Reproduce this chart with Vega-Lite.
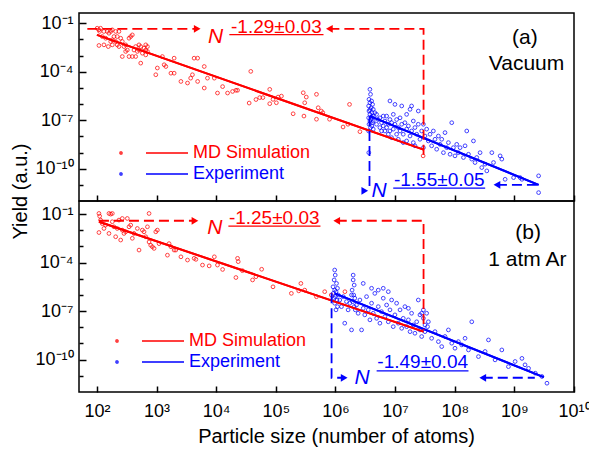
{
  "$schema": "https://vega.github.io/schema/vega-lite/v6.json",
  "background": "white",
  "padding": {"left": 9, "top": 12, "right": 0, "bottom": 0},
  "bounds": "flush",
  "spacing": 0,
  "config": {
    "font": "Liberation Sans",
    "view": {"stroke": "#000", "strokeWidth": 1.5},
    "axis": {"labelColor": "#000", "titleColor": "#000", "tickColor": "#000", "tickWidth": 1.5, "labelFont": "Liberation Sans", "titleFont": "Liberation Sans", "labelFontSize": 18, "titleFontSize": 20, "titleFontWeight": "normal", "domain": false, "grid": false, "labelFlush": false, "labelOverlap": false}
  },
  "resolve": {"scale": {"color": "independent"}, "legend": {"color": "independent"}},
  "datasets": {
    "sim_a": [
      {"N":101,"Y":0.049},{"N":108,"Y":0.039},{"N":111,"Y":0.031},{"N":123,"Y":0.015},{"N":108,"Y":0.0042},{"N":131,"Y":0.0046},{"N":140,"Y":0.0118},{"N":149,"Y":0.031},{"N":159,"Y":0.024},{"N":170,"Y":0.0074},{"N":181,"Y":0.0046},{"N":193,"Y":0.015},{"N":206,"Y":0.0074},{"N":219,"Y":0.015},{"N":234,"Y":0.031},{"N":250,"Y":0.0118},{"N":266,"Y":0.0074},{"N":284,"Y":0.0036},{"N":303,"Y":0.0046},{"N":323,"Y":0.0022},{"N":345,"Y":0.0118},{"N":368,"Y":0.015},{"N":392,"Y":0.019},{"N":418,"Y":0.0022},{"N":446,"Y":0.00087},{"N":476,"Y":0.0018},{"N":508,"Y":0.0046},{"N":542,"Y":0.0036},{"N":578,"Y":0.0014},{"N":616,"Y":0.0029},{"N":658,"Y":0.0022},{"N":702,"Y":0.0036},{"N":542,"Y":0.00034},{"N":266,"Y":0.00087},{"N":345,"Y":0.00087},{"N":392,"Y":0.00087},{"N":303,"Y":0.0018},{"N":181,"Y":0.0094},{"N":206,"Y":0.031},{"N":155,"Y":0.0036},{"N":234,"Y":0.0036},{"N":658,"Y":0.0011},{"N":702,"Y":0.0018},{"N":115,"Y":0.049},{"N":131,"Y":0.031},{"N":170,"Y":0.031},{"N":181,"Y":0.039},{"N":658,"Y":0.0046},{"N":508,"Y":0.0022},{"N":446,"Y":0.0036},{"N":219,"Y":0.0046},
      {"N":970,"Y":6.5e-5},{"N":1030,"Y":1.7e-4},{"N":1250,"Y":8.7e-4},{"N":1340,"Y":2.7e-4},{"N":1430,"Y":2.1e-4},{"N":1740,"Y":8.1e-5},{"N":1970,"Y":6.9e-4},{"N":1970,"Y":8.1e-5},{"N":2560,"Y":2.5e-5},{"N":3300,"Y":2.0e-5},{"N":3730,"Y":4.0e-5},{"N":3990,"Y":6.5e-5},{"N":4260,"Y":6.9e-4},{"N":4880,"Y":6.9e-4},{"N":4880,"Y":2.5e-5},{"N":6300,"Y":2.1e-4},{"N":6300,"Y":9.8e-6},{"N":7130,"Y":4.0e-5},{"N":9300,"Y":4.0e-5},{"N":10500,"Y":4.8e-6},{"N":12800,"Y":1.2e-5},{"N":15500,"Y":4.8e-6},{"N":18800,"Y":6.0e-6},{"N":21400,"Y":7.1e-6},{"N":22800,"Y":7.1e-6},{"N":35700,"Y":1.15e-6},{"N":38000,"Y":1.05e-4},{"N":46400,"Y":1.9e-6},
      {"N":53700,"Y":2.5e-6},{"N":60600,"Y":2.5e-6},{"N":79000,"Y":8.1e-6},{"N":79000,"Y":1.05e-6},{"N":89600,"Y":1.95e-6},{"N":102000,"Y":1.2e-6},{"N":109000,"Y":2.7e-6},{"N":124000,"Y":3.1e-6},{"N":195000,"Y":2.5e-7},{"N":288000,"Y":5.0e-6},{"N":305000,"Y":1.2e-6},{"N":324000,"Y":2.7e-6},{"N":296000,"Y":1.8e-7},{"N":480000,"Y":4.0e-6},{"N":480000,"Y":1.15e-7},{"N":513000,"Y":5.9e-7},{"N":578000,"Y":3.7e-7},{"N":614000,"Y":2.9e-7},{"N":795000,"Y":1.15e-7},{"N":1340000,"Y":3.8e-8},{"N":1620000,"Y":5.6e-8},{"N":1720000,"Y":9.5e-7},{"N":2570000,"Y":1.95e-8},{"N":29500000,"Y":6.2e-10}
    ],
    "exp_a": [
      {"N":3780000,"Y":8.1e-6},{"N":3870000,"Y":4.0e-6},{"N":3650000,"Y":1.95e-6},{"N":4030000,"Y":1.55e-6},{"N":3780000,"Y":1.2e-6},{"N":4190000,"Y":9.5e-7},{"N":3600000,"Y":7.6e-7},{"N":3970000,"Y":5.9e-7},{"N":4300000,"Y":4.7e-7},{"N":3650000,"Y":3.7e-7},{"N":4080000,"Y":2.9e-7},{"N":3780000,"Y":2.3e-7},{"N":4300000,"Y":1.8e-7},{"N":3600000,"Y":1.4e-7},{"N":3970000,"Y":1.1e-7},{"N":3780000,"Y":8.9e-8},{"N":4190000,"Y":7.0e-8},{"N":3650000,"Y":5.6e-8},{"N":4080000,"Y":4.4e-8},{"N":3870000,"Y":3.5e-8},{"N":4300000,"Y":2.8e-8},{"N":3600000,"Y":2.15e-8},{"N":3620000,"Y":9.8e-10},{"N":4030000,"Y":1.6e-7},{"N":3780000,"Y":4.5e-7},{"N":4300000,"Y":8.9e-8},
      {"N":4570000,"Y":2.9e-7},{"N":4880000,"Y":2.3e-7},{"N":4880000,"Y":5.6e-8},{"N":5210000,"Y":1.1e-7},{"N":5560000,"Y":1.4e-7},{"N":5560000,"Y":3.5e-8},{"N":5930000,"Y":7.0e-8},{"N":5930000,"Y":2.15e-8},{"N":6330000,"Y":1.8e-7},{"N":6330000,"Y":4.4e-8},{"N":6750000,"Y":8.9e-8},{"N":6750000,"Y":2.15e-8},{"N":7200000,"Y":1.8e-7},{"N":7200000,"Y":3.5e-8},{"N":7690000,"Y":5.6e-8},{"N":7690000,"Y":1.35e-8},{"N":8190000,"Y":1.55e-6},{"N":8190000,"Y":1.1e-7},{"N":8190000,"Y":2.15e-8},{"N":8740000,"Y":7.0e-8},{"N":8740000,"Y":8.3e-9},{"N":9330000,"Y":2.3e-7},{"N":9330000,"Y":2.8e-8},{"N":9940000,"Y":9.5e-7},{"N":9940000,"Y":5.6e-8},{"N":10600000,"Y":1.1e-7},{"N":10600000,"Y":1.35e-8},{"N":11300000,"Y":3.5e-8},{"N":11300000,"Y":6.6e-9},{"N":12100000,"Y":1.4e-7},{"N":12100000,"Y":2.15e-8},{"N":12900000,"Y":7.6e-7},{"N":12900000,"Y":5.6e-8},{"N":13700000,"Y":1.35e-8},{"N":13700000,"Y":4.1e-9},{"N":14600000,"Y":7.0e-8},{"N":15600000,"Y":2.3e-7},{"N":15600000,"Y":2.8e-8},{"N":15600000,"Y":5.2e-9},{"N":16700000,"Y":4.4e-8},{"N":17800000,"Y":4.7e-7},{"N":17800000,"Y":1.05e-8},{"N":18900000,"Y":7.6e-7},{"N":18900000,"Y":2.15e-8},{"N":20200000,"Y":8.9e-8},{"N":20200000,"Y":4.1e-9},{"N":21500000,"Y":3.5e-8},{"N":21500000,"Y":2.6e-9},{"N":23000000,"Y":1.35e-8},{"N":24500000,"Y":3.7e-7},{"N":24500000,"Y":5.6e-8},{"N":26100000,"Y":6.6e-9},{"N":27900000,"Y":2.15e-8},{"N":29800000,"Y":2.0e-9},{"N":29800000,"Y":5.6e-8},{"N":31700000,"Y":1.05e-8},{"N":33800000,"Y":2.8e-8},{"N":36100000,"Y":5.2e-9},{"N":38500000,"Y":1.35e-8},{"N":41000000,"Y":2.6e-9},{"N":43800000,"Y":2.15e-8},{"N":46700000,"Y":6.6e-9},{"N":49800000,"Y":1.6e-9},{"N":53200000,"Y":1.05e-8},{"N":56700000,"Y":3.2e-9},{"N":60500000,"Y":6.6e-9},{"N":64600000,"Y":9.8e-10},{"N":68700000,"Y":1.7e-8},{"N":73400000,"Y":2.0e-9},{"N":78300000,"Y":4.1e-9},{"N":83500000,"Y":7.8e-10},{"N":89100000,"Y":7.0e-8},{"N":95000000,"Y":2.0e-9},{"N":101000000,"Y":6.2e-10},{"N":108000000,"Y":3.2e-9},{"N":115000000,"Y":9.8e-10},{"N":123000000,"Y":2.0e-9},{"N":140000000,"Y":4.9e-10},{"N":149000000,"Y":2.6e-9},{"N":159000000,"Y":2.15e-8},{"N":170000000,"Y":7.8e-10},{"N":193000000,"Y":3.9e-10},{"N":206000000,"Y":5.2e-9},{"N":219000000,"Y":2.4e-10},{"N":234000000,"Y":4.9e-10},{"N":266000000,"Y":9.8e-10},{"N":284000000,"Y":1.17e-10},{"N":323000000,"Y":1.9e-10},{"N":345000000,"Y":7.3e-11},{"N":419000000,"Y":9.8e-10},{"N":447000000,"Y":2.4e-10},{"N":577000000,"Y":6.2e-10},{"N":616000000,"Y":3.9e-10},{"N":700000000,"Y":2.2e-11},{"N":970000000,"Y":2.8e-11},{"N":1250000000,"Y":2.8e-11},{"N":1340000000,"Y":2.2e-11},{"N":2550000000,"Y":3.6e-11},{"N":2550000000,"Y":3.3e-12}
    ],
    "sim_b": [
      {"N":108,"Y":0.11},{"N":111,"Y":0.075},{"N":115,"Y":0.043},{"N":123,"Y":0.026},{"N":108,"Y":0.0073},{"N":131,"Y":0.013},{"N":140,"Y":0.021},{"N":159,"Y":0.11},{"N":170,"Y":0.1},{"N":181,"Y":0.11},{"N":159,"Y":0.0064},{"N":181,"Y":0.034},{"N":193,"Y":0.0165},{"N":206,"Y":0.004},{"N":219,"Y":0.013},{"N":234,"Y":0.043},{"N":250,"Y":0.0025},{"N":266,"Y":0.0103},{"N":266,"Y":0.054},{"N":284,"Y":0.0064},{"N":303,"Y":0.0081},{"N":323,"Y":0.054},{"N":345,"Y":0.0165},{"N":368,"Y":0.021},{"N":392,"Y":0.0032},{"N":418,"Y":0.0064},{"N":476,"Y":0.013},{"N":508,"Y":0.0006},{"N":578,"Y":0.0103},{"N":616,"Y":0.0081},{"N":658,"Y":0.004},{"N":702,"Y":0.0165},{"N":748,"Y":0.11},{"N":748,"Y":0.0019},{"N":797,"Y":0.0012},{"N":850,"Y":0.00096},{"N":970,"Y":0.0081},{"N":1030,"Y":0.0103},{"N":908,"Y":0.00076},{"N":1100,"Y":0.0015},{"N":1620,"Y":0.0015},{"N":1520,"Y":0.00029},{"N":1740,"Y":0.00096},{"N":1970,"Y":0.0006},{"N":2100,"Y":0.0006},{"N":2560,"Y":0.00023},{"N":3300,"Y":0.000145},{"N":4260,"Y":0.000185},{"N":4570,"Y":0.00016},{"N":5890,"Y":7.1e-5},{"N":7620,"Y":6.3e-5},{"N":9300,"Y":0.00023},{"N":10500,"Y":7.1e-5},{"N":12800,"Y":3.8e-5},{"N":21400,"Y":1.2e-5},{"N":22800,"Y":0.000185},{"N":23400,"Y":0.000115},{"N":27500,"Y":3.2e-5},{"N":40700,"Y":8.5e-6},{"N":46400,"Y":1.35e-5},
      {"N":57800,"Y":3.9e-5},{"N":89600,"Y":3.2e-6},{"N":182000,"Y":1.26e-6},{"N":263000,"Y":5.2e-6},{"N":242000,"Y":1.8e-6},{"N":305000,"Y":2.0e-6},{"N":480000,"Y":7.8e-7},{"N":660000,"Y":1.6e-6},{"N":850000,"Y":1.0e-6},{"N":1440000,"Y":1.6e-6}
    ],
    "exp_b": [
      {"N":970000,"Y":3.5e-5},{"N":990000,"Y":1.7e-5},{"N":950000,"Y":8.5e-6},{"N":1040000,"Y":5.2e-6},{"N":910000,"Y":3.2e-6},{"N":1080000,"Y":2.6e-6},{"N":970000,"Y":2.0e-6},{"N":1020000,"Y":1.6e-6},{"N":920000,"Y":1.26e-6},{"N":1110000,"Y":1.0e-6},{"N":990000,"Y":7.9e-7},{"N":950000,"Y":6.3e-7},{"N":1060000,"Y":4.9e-7},{"N":970000,"Y":3.1e-7},{"N":1080000,"Y":1.9e-7},{"N":1020000,"Y":1.2e-7},
      {"N":1980000,"Y":1.7e-5},{"N":1980000,"Y":8.5e-6},{"N":2060000,"Y":4.1e-6},{"N":1900000,"Y":2.0e-6},{"N":2020000,"Y":1.0e-6},{"N":2110000,"Y":6.3e-7},{"N":1940000,"Y":3.9e-7},{"N":2060000,"Y":1.9e-7},{"N":2150000,"Y":1.2e-7},
      {"N":1180000,"Y":4.9e-7},{"N":1260000,"Y":1.9e-7},{"N":1350000,"Y":7.9e-7},{"N":1430000,"Y":1.8e-8},{"N":1530000,"Y":3.9e-7},{"N":1630000,"Y":1.2e-7},{"N":1740000,"Y":3.1e-7},{"N":1860000,"Y":6.9e-9},{"N":2250000,"Y":2.4e-7},{"N":2400000,"Y":7.4e-8},{"N":2570000,"Y":4.9e-7},{"N":2740000,"Y":6.9e-9},{"N":2920000,"Y":5.2e-6},{"N":2920000,"Y":1.5e-7},{"N":3100000,"Y":5.9e-8},{"N":3320000,"Y":7.9e-7},{"N":3550000,"Y":1.2e-7},{"N":3780000,"Y":2.9e-8},{"N":4030000,"Y":3.1e-7},{"N":4030000,"Y":2.6e-6},{"N":4300000,"Y":7.4e-8},{"N":4570000,"Y":1.26e-6},{"N":4900000,"Y":3.6e-8},{"N":5220000,"Y":1.9e-7},{"N":5220000,"Y":2.0e-6},{"N":5560000,"Y":1.8e-8},{"N":5930000,"Y":9.3e-8},{"N":6330000,"Y":6.3e-7},{"N":6330000,"Y":2.6e-6},{"N":6750000,"Y":4.6e-8},{"N":7200000,"Y":2.4e-7},{"N":7690000,"Y":2.2e-8},{"N":8200000,"Y":1.2e-7},{"N":8740000,"Y":4.9e-7},{"N":9300000,"Y":1.1e-8},{"N":9940000,"Y":5.9e-8},{"N":10600000,"Y":3.1e-7},{"N":11300000,"Y":1.8e-8},{"N":12100000,"Y":1.2e-7},{"N":12900000,"Y":8.7e-9},{"N":13700000,"Y":3.6e-8},{"N":14600000,"Y":1.9e-7},{"N":15600000,"Y":1.1e-8},{"N":16700000,"Y":2.9e-8},{"N":17800000,"Y":5.4e-9},{"N":18900000,"Y":7.4e-8},{"N":20200000,"Y":1.4e-8},{"N":21500000,"Y":4.3e-9},{"N":23000000,"Y":2.2e-8},{"N":24500000,"Y":4.9e-7},{"N":26100000,"Y":6.9e-9},{"N":27900000,"Y":7.4e-8},{"N":27900000,"Y":2.7e-9},{"N":29800000,"Y":3.6e-8},{"N":31700000,"Y":1.4e-8},{"N":33800000,"Y":7.4e-8},{"N":36100000,"Y":2.2e-8},{"N":31700000,"Y":5.4e-9},{"N":1860000,"Y":1.0e-6},{"N":7690000,"Y":1.6e-6},{"N":16700000,"Y":1.5e-7},{"N":26100000,"Y":5.9e-8},{"N":29800000,"Y":1.2e-7},{"N":35000000,"Y":1.1e-8},
      {"N":41000000,"Y":2.1e-9},{"N":46700000,"Y":5.4e-9},{"N":53200000,"Y":1.3e-9},{"N":60500000,"Y":6.4e-10},{"N":68700000,"Y":2.7e-9},{"N":78300000,"Y":6.9e-9},{"N":89100000,"Y":1.04e-9},{"N":101000000,"Y":5.1e-10},{"N":115000000,"Y":1.3e-9},{"N":131000000,"Y":8.2e-10},{"N":149000000,"Y":2.1e-9},{"N":170000000,"Y":4.0e-10},{"N":193000000,"Y":2.2e-8},{"N":250000000,"Y":1.55e-10},{"N":323000000,"Y":3.2e-10},{"N":368000000,"Y":1.66e-9},{"N":475000000,"Y":9.7e-11},{"N":616000000,"Y":4.0e-10},{"N":795000000,"Y":3.7e-11},{"N":1030000000,"Y":7.7e-11},{"N":1340000000,"Y":1.2e-10},{"N":1510000000,"Y":4.8e-11},{"N":1730000000,"Y":2.9e-11},{"N":2240000000,"Y":1.46e-11},{"N":2900000000,"Y":9.1e-12},{"N":3520000000,"Y":3.5e-12}
    ],
    "fits": [
      {"panel":"a","series":"MD Simulation","N":100,"Y":0.019},{"panel":"a","series":"MD Simulation","N":30000000,"Y":1.5e-9},
      {"panel":"a","series":"Experiment","N":3780000,"Y":1.8e-7},{"panel":"a","series":"Experiment","N":2550000000,"Y":1.0e-11},
      {"panel":"b","series":"MD Simulation","N":108,"Y":0.034},{"panel":"b","series":"MD Simulation","N":30000000,"Y":5.4e-9},
      {"panel":"b","series":"Experiment","N":970000,"Y":1.26e-6},{"panel":"b","series":"Experiment","N":3100000000,"Y":8.3e-12}
    ],
    "guides": [
      {"panel":"a","series":"MD Simulation","seg":"a1","ord":1,"N":69,"Y":0.045},{"panel":"a","series":"MD Simulation","seg":"a1","ord":2,"N":4800,"Y":0.045},
      {"panel":"a","series":"MD Simulation","seg":"a2","ord":1,"N":790000,"Y":0.045},{"panel":"a","series":"MD Simulation","seg":"a2","ord":2,"N":30000000,"Y":0.045},{"panel":"a","series":"MD Simulation","seg":"a2","ord":3,"N":30000000,"Y":6.2e-10},
      {"panel":"a","series":"Experiment","seg":"a3","ord":1,"N":3720000,"Y":1.8e-7},{"panel":"a","series":"Experiment","seg":"a3","ord":2,"N":3720000,"Y":4.3e-12},
      {"panel":"a","series":"Experiment","seg":"a4","ord":1,"N":510000000,"Y":1.0e-11},{"panel":"a","series":"Experiment","seg":"a4","ord":2,"N":2550000000,"Y":1.0e-11},
      {"panel":"b","series":"MD Simulation","seg":"b1","ord":1,"N":108,"Y":0.039},{"panel":"b","series":"MD Simulation","seg":"b1","ord":2,"N":4400,"Y":0.039},
      {"panel":"b","series":"MD Simulation","seg":"b2","ord":1,"N":1050000,"Y":0.039},{"panel":"b","series":"MD Simulation","seg":"b2","ord":2,"N":30000000,"Y":0.039},{"panel":"b","series":"MD Simulation","seg":"b2","ord":3,"N":30000000,"Y":6.9e-9},
      {"panel":"b","series":"Experiment","seg":"b3","ord":1,"N":860000,"Y":1.26e-6},{"panel":"b","series":"Experiment","seg":"b3","ord":2,"N":860000,"Y":7.6e-12},{"panel":"b","series":"Experiment","seg":"b3","ord":3,"N":1400000,"Y":7.6e-12},
      {"panel":"b","series":"Experiment","seg":"b4","ord":1,"N":295000000,"Y":7.6e-12},{"panel":"b","series":"Experiment","seg":"b4","ord":2,"N":2200000000,"Y":7.6e-12}
    ],
    "arrows": [
      {"panel":"a","series":"MD Simulation","dir":"right","N":4800,"Y":0.045},
      {"panel":"a","series":"MD Simulation","dir":"left","N":790000,"Y":0.045},
      {"panel":"a","series":"Experiment","dir":"right","N":3100000,"Y":4.3e-12},
      {"panel":"a","series":"Experiment","dir":"left","N":510000000,"Y":1.0e-11},
      {"panel":"b","series":"MD Simulation","dir":"right","N":4400,"Y":0.039},
      {"panel":"b","series":"MD Simulation","dir":"left","N":1050000,"Y":0.039},
      {"panel":"b","series":"Experiment","dir":"right","N":1400000,"Y":7.6e-12},
      {"panel":"b","series":"Experiment","dir":"left","N":295000000,"Y":7.6e-12}
    ],
    "symbolN": [
      {"panel":"a","series":"MD Simulation","text":"N","N":9800,"Y":0.015},
      {"panel":"a","series":"Experiment","text":"N","N":5400000,"Y":4.3e-12},
      {"panel":"b","series":"MD Simulation","text":"N","N":9500,"Y":0.013},
      {"panel":"b","series":"Experiment","text":"N","N":2800000,"Y":7.6e-12}
    ],
    "exponents": [
      {"panel":"a","series":"MD Simulation","text":"-1.29±0.03","N":102000,"Y":0.06},
      {"panel":"a","series":"Experiment","text":"-1.55±0.05","N":55000000,"Y":2.0e-11},
      {"panel":"b","series":"MD Simulation","text":"-1.25±0.03","N":94000,"Y":0.06},
      {"panel":"b","series":"Experiment","text":"-1.49±0.04","N":29000000,"Y":6.8e-11}
    ],
    "underlines": [
      {"panel":"a","series":"MD Simulation","N":16600,"N2":630000,"Y":0.02},
      {"panel":"a","series":"Experiment","N":9300000,"N2":324000000,"Y":6.3e-12},
      {"panel":"b","series":"MD Simulation","N":16000,"N2":560000,"Y":0.018},
      {"panel":"b","series":"Experiment","N":4900000,"N2":170000000,"Y":2.0e-11}
    ],
    "panelLabels": [
      {"panel":"a","text":"(a)","N":1500000000,"Y":0.0118},
      {"panel":"a","text":"Vacuum","N":1600000000,"Y":2.9e-4},
      {"panel":"b","text":"(b)","N":1700000000,"Y":0.0067},
      {"panel":"b","text":"1 atm Ar","N":1650000000,"Y":1.45e-4}
    ]
  },
  "vconcat": [
    {
      "width": 495,
      "height": 188,
      "encoding": {
        "x": {"field": "N", "type": "quantitative", "scale": {"type": "log", "domain": [50, 10000000000], "nice": false},
          "axis": {"values": [100, 1000, 10000, 100000, 1000000, 10000000, 100000000, 1000000000, 10000000000], "labels": false, "title": null, "tickSize": -6}},
        "y": {"field": "Y", "type": "quantitative", "scale": {"type": "log", "domain": [1e-12, 0.43], "nice": false},
          "axis": {"values": [0.1, 0.01, 0.001, 0.0001, 0.00001, 0.000001, 1e-7, 1e-8, 1e-9, 1e-10, 1e-11],
            "labelExpr": "datum.value == 0.1 ? '10⁻¹' : datum.value == 0.0001 ? '10⁻⁴' : datum.value == 1e-7 ? '10⁻⁷' : datum.value == 1e-10 ? '10⁻¹⁰' : ''",
            "tickSize": {"condition": {"test": "datum.value == 0.1 || datum.value == 0.0001 || datum.value == 1e-7 || datum.value == 1e-10", "value": -7}, "value": -4},
            "labelPadding": 13, "title": "Yield (a.u.)", "titleX": -49, "titleY": 178}}
      },
      "layer": [
        {"data": {"name": "fits"}, "transform": [{"filter": "datum.panel == 'a'"}], "mark": {"type": "line", "strokeWidth": 2},
          "encoding": {"color": {"field": "series", "type": "nominal", "scale": {"domain": ["MD Simulation", "Experiment"], "range": ["#ff0000", "#0000ff"]},
            "legend": {"orient": "none", "legendX": 88, "legendY": 129, "title": null, "symbolType": "M-5.8,0A0.1,0.1 0 1,0 -5.6,0A0.1,0.1 0 1,0 -5.8,0M-3.2,0L1,0", "symbolSize": 400, "symbolStrokeWidth": 1.8, "labelFontSize": 18, "labelFont": "Liberation Sans", "labelOffset": 4, "rowPadding": 1, "padding": 0, "labelColor": {"expr": "datum.value == 'MD Simulation' ? '#ff0000' : '#0000ff'"}}}}},
        {"data": {"name": "sim_a"}, "mark": {"type": "point", "filled": false, "size": 14, "strokeWidth": 1, "opacity": 0.75},
          "encoding": {"color": {"datum": "MD Simulation", "type": "nominal"}}},
        {"data": {"name": "exp_a"}, "mark": {"type": "point", "filled": false, "size": 14, "strokeWidth": 1, "opacity": 0.75},
          "encoding": {"color": {"datum": "Experiment", "type": "nominal"}}},
        {"data": {"name": "fits"}, "transform": [{"filter": "datum.panel == 'a'"}], "mark": {"type": "line", "strokeWidth": 2},
          "encoding": {"color": {"field": "series", "type": "nominal"}}},
        {"data": {"name": "guides"}, "transform": [{"filter": "datum.panel == 'a'"}], "mark": {"type": "line", "strokeWidth": 1.8, "strokeDash": [10, 5]},
          "encoding": {"color": {"field": "series", "type": "nominal"}, "detail": {"field": "seg"}, "order": {"field": "ord"}}},
        {"data": {"name": "arrows"}, "transform": [{"filter": "datum.panel == 'a'"}], "mark": {"type": "point", "filled": true, "size": 60, "opacity": 1},
          "encoding": {"color": {"field": "series", "type": "nominal"}, "shape": {"field": "dir", "type": "nominal", "scale": {"domain": ["right", "left"], "range": ["triangle-right", "triangle-left"]}, "legend": null}}},
        {"data": {"name": "underlines"}, "transform": [{"filter": "datum.panel == 'a'"}], "mark": {"type": "rule", "strokeWidth": 1.3},
          "encoding": {"x2": {"field": "N2"}, "color": {"field": "series", "type": "nominal"}}},
        {"data": {"name": "symbolN"}, "transform": [{"filter": "datum.panel == 'a'"}], "mark": {"type": "text", "fontSize": 21, "fontStyle": "italic", "align": "center", "baseline": "middle"},
          "encoding": {"text": {"field": "text"}, "color": {"field": "series", "type": "nominal"}}},
        {"data": {"name": "exponents"}, "transform": [{"filter": "datum.panel == 'a'"}], "mark": {"type": "text", "fontSize": 19, "align": "center", "baseline": "middle"},
          "encoding": {"text": {"field": "text"}, "color": {"field": "series", "type": "nominal"}}},
        {"data": {"name": "panelLabels"}, "transform": [{"filter": "datum.panel == 'a'"}], "mark": {"type": "text", "fontSize": 21, "align": "center", "baseline": "middle", "color": "#000"},
          "encoding": {"text": {"field": "text"}}}
      ]
    },
    {
      "width": 495,
      "height": 191,
      "encoding": {
        "x": {"field": "N", "type": "quantitative", "scale": {"type": "log", "domain": [50, 10000000000], "nice": false},
          "axis": {"values": [100, 1000, 10000, 100000, 1000000, 10000000, 100000000, 1000000000, 10000000000],
            "labelExpr": "datum.value == 100 ? '10²' : datum.value == 1000 ? '10³' : datum.value == 10000 ? '10⁴' : datum.value == 100000 ? '10⁵' : datum.value == 1000000 ? '10⁶' : datum.value == 10000000 ? '10⁷' : datum.value == 100000000 ? '10⁸' : datum.value == 1000000000 ? '10⁹' : '10¹⁰'",
            "tickSize": -6, "labelPadding": 16, "title": "Particle size (number of atoms)", "titlePadding": 6, "titleX": 257}},
        "y": {"field": "Y", "type": "quantitative", "scale": {"type": "log", "domain": [1e-12, 0.65], "nice": false},
          "axis": {"values": [0.1, 0.01, 0.001, 0.0001, 0.00001, 0.000001, 1e-7, 1e-8, 1e-9, 1e-10, 1e-11],
            "labelExpr": "datum.value == 0.1 ? '10⁻¹' : datum.value == 0.0001 ? '10⁻⁴' : datum.value == 1e-7 ? '10⁻⁷' : datum.value == 1e-10 ? '10⁻¹⁰' : ''",
            "tickSize": {"condition": {"test": "datum.value == 0.1 || datum.value == 0.0001 || datum.value == 1e-7 || datum.value == 1e-10", "value": -7}, "value": -4},
            "labelPadding": 13, "title": null}}
      },
      "layer": [
        {"data": {"name": "fits"}, "transform": [{"filter": "datum.panel == 'b'"}], "mark": {"type": "line", "strokeWidth": 2},
          "encoding": {"color": {"field": "series", "type": "nominal", "scale": {"domain": ["MD Simulation", "Experiment"], "range": ["#ff0000", "#0000ff"]},
            "legend": {"orient": "none", "legendX": 84, "legendY": 129, "title": null, "symbolType": "M-5.8,0A0.1,0.1 0 1,0 -5.6,0A0.1,0.1 0 1,0 -5.8,0M-3.2,0L1,0", "symbolSize": 400, "symbolStrokeWidth": 1.8, "labelFontSize": 18, "labelFont": "Liberation Sans", "labelOffset": 4, "rowPadding": 1, "padding": 0, "labelColor": {"expr": "datum.value == 'MD Simulation' ? '#ff0000' : '#0000ff'"}}}}},
        {"data": {"name": "sim_b"}, "mark": {"type": "point", "filled": false, "size": 14, "strokeWidth": 1, "opacity": 0.75},
          "encoding": {"color": {"datum": "MD Simulation", "type": "nominal"}}},
        {"data": {"name": "exp_b"}, "mark": {"type": "point", "filled": false, "size": 14, "strokeWidth": 1, "opacity": 0.75},
          "encoding": {"color": {"datum": "Experiment", "type": "nominal"}}},
        {"data": {"name": "fits"}, "transform": [{"filter": "datum.panel == 'b'"}], "mark": {"type": "line", "strokeWidth": 2},
          "encoding": {"color": {"field": "series", "type": "nominal"}}},
        {"data": {"name": "guides"}, "transform": [{"filter": "datum.panel == 'b'"}], "mark": {"type": "line", "strokeWidth": 1.8, "strokeDash": [10, 5]},
          "encoding": {"color": {"field": "series", "type": "nominal"}, "detail": {"field": "seg"}, "order": {"field": "ord"}}},
        {"data": {"name": "arrows"}, "transform": [{"filter": "datum.panel == 'b'"}], "mark": {"type": "point", "filled": true, "size": 60, "opacity": 1},
          "encoding": {"color": {"field": "series", "type": "nominal"}, "shape": {"field": "dir", "type": "nominal", "scale": {"domain": ["right", "left"], "range": ["triangle-right", "triangle-left"]}, "legend": null}}},
        {"data": {"name": "underlines"}, "transform": [{"filter": "datum.panel == 'b'"}], "mark": {"type": "rule", "strokeWidth": 1.3},
          "encoding": {"x2": {"field": "N2"}, "color": {"field": "series", "type": "nominal"}}},
        {"data": {"name": "symbolN"}, "transform": [{"filter": "datum.panel == 'b'"}], "mark": {"type": "text", "fontSize": 21, "fontStyle": "italic", "align": "center", "baseline": "middle"},
          "encoding": {"text": {"field": "text"}, "color": {"field": "series", "type": "nominal"}}},
        {"data": {"name": "exponents"}, "transform": [{"filter": "datum.panel == 'b'"}], "mark": {"type": "text", "fontSize": 19, "align": "center", "baseline": "middle"},
          "encoding": {"text": {"field": "text"}, "color": {"field": "series", "type": "nominal"}}},
        {"data": {"name": "panelLabels"}, "transform": [{"filter": "datum.panel == 'b'"}], "mark": {"type": "text", "fontSize": 21, "align": "center", "baseline": "middle", "color": "#000"},
          "encoding": {"text": {"field": "text"}}}
      ]
    }
  ]
}
